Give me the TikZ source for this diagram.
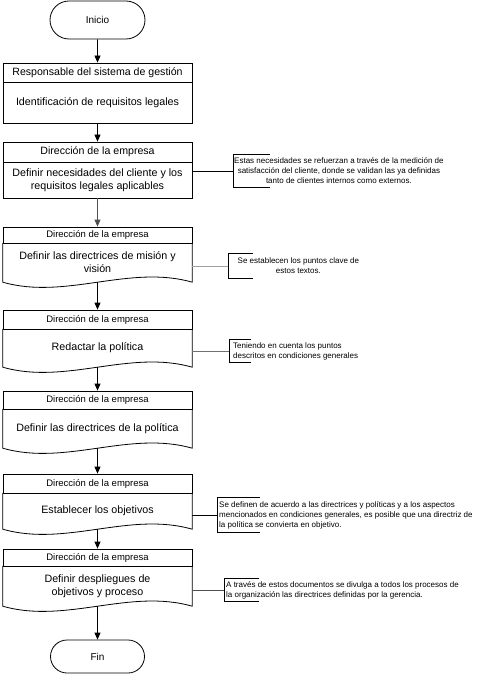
\documentclass[tikz,border=0pt]{standalone}
\usepackage{fontspec}
\setmainfont{Liberation Sans}
\usetikzlibrary{shapes.misc,arrows.meta,calc}
\definecolor{lgray}{HTML}{A0A0A0}
\definecolor{mgray}{HTML}{707070}
\definecolor{dgray}{HTML}{505050}
\begin{document}
\begin{tikzpicture}[x=1pt,y=-1pt,
  term/.style={draw, line width=0.8pt, rounded rectangle, minimum width=95pt, minimum height=38pt, inner sep=0pt, font=\fontsize{10}{12}\selectfont},
  hdr/.style={draw, line width=0.8pt, minimum width=189pt, inner sep=0pt, font=\fontsize{9.5}{11}\selectfont},
  hdrbig/.style={hdr, font=\fontsize{10.6}{12}\selectfont},
  body/.style={minimum width=189pt, inner sep=0pt, align=center, font=\fontsize{10.7}{13}\selectfont},
  note/.style={inner ysep=0pt, anchor=west, font=\fontsize{8}{10}\selectfont},
  flow/.style={-{Triangle[length=7pt,width=6pt]}, line width=0.8pt},
  lnk/.style={line width=0.8pt},
  shapeline/.style={line width=0.8pt},
]
\useasboundingbox (0,0) rectangle (481,679);

% terminators
\node[term] (start) at (97.5,20) {Inicio};
\node[term, minimum height=33pt, minimum width=94pt] (fin) at (97.5,656.5) {Fin};

% box 1
\node[hdrbig, minimum height=19pt] (h1) at (97.5,72.5) {Responsable del sistema de gestión};
\node[body, draw, line width=0.8pt, minimum height=41pt] (b1) at (97.5,102.5) {Identificación de requisitos legales};

% box 2
\node[hdrbig, minimum height=20pt] (h2) at (97.5,152) {Dirección de la empresa};
\node[body, draw, line width=0.8pt, minimum height=36pt] (b2) at (97.5,180) {Definir necesidades del cliente y los\\requisitos legales aplicables};

% box 3
\node[hdr, minimum height=16pt] (h3) at (97.5,235) {Dirección de la empresa};
\node[body, minimum height=39pt] (b3) at (97.5,262.5) {Definir las directrices de misión y\\visión};

% box 4
\node[hdr, minimum height=19pt] (h4) at (97.5,319.5) {Dirección de la empresa};
\node[body, minimum height=38pt] (b4) at (97.5,348) {Redactar la política};

% box 5
\node[hdr, minimum height=18pt] (h5) at (97.5,400) {Dirección de la empresa};
\node[body, minimum height=39pt] (b5) at (97.5,428.5) {Definir las directrices de la política};

% box 6
\node[hdr, minimum height=19pt] (h6) at (97.5,483.5) {Dirección de la empresa};
\node[body, minimum height=36pt] (b6) at (97.5,511) {Establecer los objetivos};

% box 7
\node[hdr, minimum height=17pt] (h7) at (97.5,557.5) {Dirección de la empresa};
\node[body, minimum height=40pt] (b7) at (97.5,586) {Definir despliegues de\\objetivos y proceso};

% document shapes (wavy bottom)
\foreach \b in {b3,b4,b5,b6,b7}{
  \draw[shapeline] (\b.north west) -- (\b.south west)
    .. controls ($(\b.south west)+(63,18)$) and ($(\b.south east)+(-63,-18)$) .. (\b.south east)
    -- (\b.north east);
}

% flow arrows
\draw[flow] (start) -- (h1);
\draw[flow] (b1) -- (h2);
\draw[flow, dgray] (b2) -- (h3);
\draw[flow] (b3.south) -- (h4);
\draw[flow] (b4.south) -- (h5);
\draw[flow] (b5.south) -- (h6);
\draw[flow] (b6.south) -- (h7);
\draw[flow] (b7.south) -- (fin);

% annotations
\node[note, align=center, inner xsep=1pt, minimum height=32pt] (a1) at (233,171)
  {Estas necesidades se refuerzan a través de la medición de\\satisfacción del cliente, donde se validan las ya definidas\\tanto de clientes internos como externos.};
\draw[shapeline] ([xshift=37pt]a1.north west) -- (a1.north west) -- (a1.south west) -- ([xshift=37pt]a1.south west);
\draw[lnk] (a1.west) -- (a1.west -| b2.east);

\node[note, align=center, inner xsep=9.5pt, minimum height=24pt] (a2) at (228,266)
  {Se establecen los puntos clave de\\estos textos.};
\draw[shapeline] ([xshift=25pt]a2.north west) -- (a2.north west) -- (a2.south west) -- ([xshift=25pt]a2.south west);
\draw[lnk, lgray] (a2.west) -- (a2.west -| b3.east);

\node[note, align=left, inner xsep=4pt, minimum height=22pt] (a3) at (229,351)
  {Teniendo en cuenta los puntos\\descritos en condiciones generales};
\draw[shapeline] ([xshift=22pt]a3.north west) -- (a3.north west) -- (a3.south west) -- ([xshift=22pt]a3.south west);
\draw[lnk, mgray] (a3.west) -- (a3.west -| b4.east);

\node[note, align=left, inner xsep=2pt, minimum height=34pt] (a4) at (217,515)
  {Se definen de acuerdo a las directrices y políticas y a los aspectos\\mencionados en condiciones generales, es posible que una directriz de\\la política se convierta en objetivo.};
\draw[shapeline] ([xshift=43pt]a4.north west) -- (a4.north west) -- (a4.south west) -- ([xshift=43pt]a4.south west);
\draw[lnk] (a4.west) -- (a4.west -| b6.east);

\node[note, align=left, inner xsep=2pt, minimum height=23pt] (a5) at (224,590)
  {A través de estos documentos se divulga a todos los procesos de\\la organización las directrices definidas por la gerencia.};
\draw[shapeline] ([xshift=35pt]a5.north west) -- (a5.north west) -- (a5.south west) -- ([xshift=35pt]a5.south west);
\draw[lnk, dgray] (a5.west) -- (a5.west -| b7.east);
\end{tikzpicture}
\end{document}
